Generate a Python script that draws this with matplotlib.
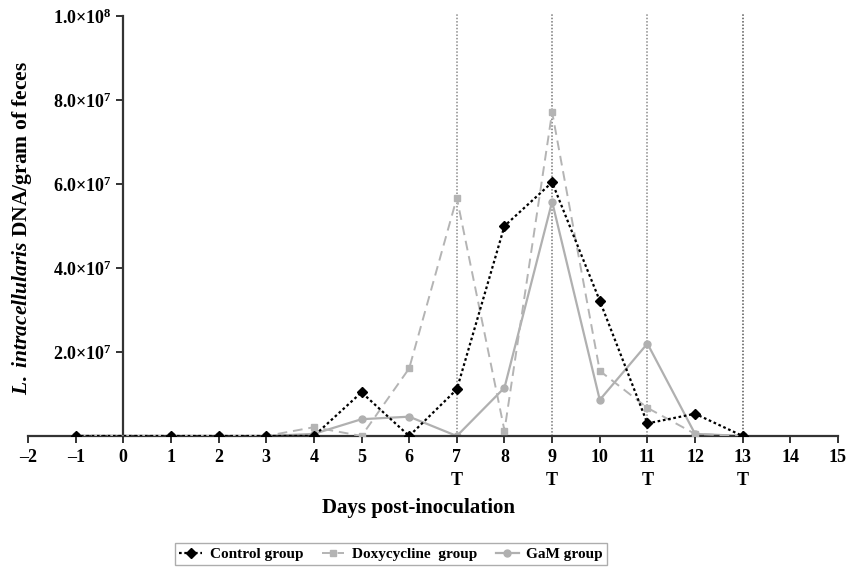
import matplotlib
matplotlib.use('Agg')
import matplotlib.pyplot as plt

plt.rcParams['font.family'] = 'Liberation Serif'
plt.rcParams['font.weight'] = 'bold'
plt.rcParams['mathtext.fontset'] = 'custom'
plt.rcParams['mathtext.rm'] = 'Liberation Serif:bold'
plt.rcParams['mathtext.bf'] = 'Liberation Serif:bold'
plt.rcParams['mathtext.it'] = 'Liberation Serif:italic:bold'

# data (copies of DNA per gram of feces)
days = [-1, 1, 2, 3, 4, 5, 6, 7, 8, 9, 10, 11, 12, 13]
control = [0, 0, 0, 0, 0, 1.04e7, 0, 1.11e7, 5.0e7, 6.04e7, 3.22e7, 0.30e7, 0.53e7, 0]
doxy = [0.05e6, 0, 0, 0, 0.21e7, 0, 1.61e7, 5.67e7, 0.13e7, 7.71e7, 1.55e7, 0.67e7, 0.05e7, 0]
gam = [0.03e6, 0, 0, 0, 0.05e7, 0.40e7, 0.46e7, 0, 1.15e7, 5.58e7, 0.86e7, 2.2e7, 0.05e7, 0]

treat_days = [7, 9, 11, 13]
treat_colors = ['#8a8a8a', '#777777', '#8a8a8a', '#555555']
yticks = [2e7, 4e7, 6e7, 8e7, 1e8]
ytick_labels = [r'$2.0{\times}10^{7}$', r'$4.0{\times}10^{7}$', r'$6.0{\times}10^{7}$',
                r'$8.0{\times}10^{7}$', r'$1.0{\times}10^{8}$']

fig = plt.figure(figsize=(8.58, 5.70), dpi=100)
ax = fig.add_axes([28/858, 1-436/570, 810/858, 420/570])

# treatment days
for d, c in zip(treat_days, treat_colors):
    ax.plot([d, d], [0, 1.008e8], color=c, linestyle=(0, (1, 1.2)), linewidth=1.1,
            clip_on=False, zorder=1)

ax.plot(days, gam, color='#b0b0b0', linestyle='-', linewidth=1.6, marker='o',
        markersize=5, label='GaM group', zorder=2)
ax.plot(days, doxy, color='#b4b4b4', linestyle=(0, (5, 3)), linewidth=1.4, marker='s',
        markersize=5, label='Doxycycline  group', zorder=3)
ax.plot(days, control, color='black', linestyle=(0, (1.2, 1.2)), linewidth=1.6, marker='D',
        markersize=5, label='Control group', zorder=4)

ax.set_xlim(-2, 15)
ax.set_ylim(0, 1e8)
ax.spines['left'].set_position(('data', 0))
ax.spines['bottom'].set_position(('data', 0))
ax.spines['right'].set_visible(False)
ax.spines['top'].set_visible(False)
ax.spines['left'].set_linewidth(1.6)
ax.spines['bottom'].set_linewidth(1.6)
ax.spines['left'].set_color('#333333')
ax.spines['bottom'].set_color('#333333')

ax.set_xticks(range(-2, 16))
ax.set_xticklabels([str(i).replace('-', '\u2013') for i in range(-2, 16)])
ax.set_yticks(yticks)
ax.set_yticklabels(ytick_labels)
ax.tick_params(axis='both', direction='out', length=5, width=1.4, color='#333333',
               labelsize=13)
ax.tick_params(axis='x', pad=4)

for d in treat_days:
    ax.text(d, -1.07e7, 'T', ha='center', va='center', fontsize=13,
            fontweight='bold')

fig.text(418/858, 1-508/570, 'Days post-inoculation', ha='center', va='center',
         fontsize=15, fontweight='bold')
fig.text(22/858, 1-228/570, r'$\mathit{L.\ intracellularis}$ DNA/gram of feces',
         ha='center', va='center', rotation=90, fontsize=15.5, fontweight='bold')

handles, labels = ax.get_legend_handles_labels()
order = [2, 1, 0]
leg = fig.legend([handles[i] for i in order], [labels[i] for i in order],
                 loc='center', bbox_to_anchor=(391/858, 1-554/570), ncol=3,
                 frameon=True, fancybox=False, edgecolor='#999999',
                 handlelength=1.5, handletextpad=0.5, columnspacing=1.2,
                 borderpad=0.3, prop={'size': 11, 'weight': 'bold'})
leg.get_frame().set_linewidth(1.0)

fig.savefig('out.png', dpi=100)
